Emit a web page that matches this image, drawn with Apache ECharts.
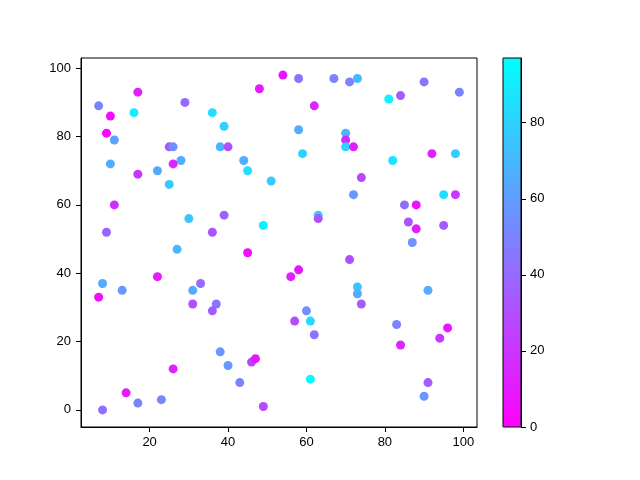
<!DOCTYPE html>
<html lang="en">
<head>
  <meta charset="UTF-8">
  <title>Scatter</title>
  <script src="https://cdn.jsdelivr.net/npm/echarts@6/dist/echarts.min.js"></script>
</head>
<body style="margin:0;background:#fff;">
  <div id="chart" style="width:640px;height:480px;"></div>
<script>
  // point positions
  var xs = [17, 7, 10, 16, 29, 36, 9, 11, 25, 26, 10, 28, 26, 22, 17, 25, 11, 30, 9, 36,
            54, 58, 67, 71, 73, 48, 62, 39, 58, 70, 70, 70, 72, 38, 40, 59, 44, 45, 51, 39,
            49, 63, 63, 90, 99, 81, 84, 82, 92, 98, 74, 72, 95, 98, 85, 88, 86, 88, 95, 87,
            27, 22, 8, 13, 7, 31, 33, 31, 37, 36, 26, 14, 17, 23, 8, 45, 58, 56, 71, 60,
            61, 57, 62, 38, 40, 43, 46, 47, 61, 49, 73, 73, 74, 91, 83, 96, 94, 84, 91, 90];
  var ys = [93, 89, 86, 87, 90, 87, 81, 79, 77, 77, 72, 73, 72, 70, 69, 66, 60, 56, 52, 52,
            98, 97, 97, 96, 97, 94, 89, 83, 82, 81, 79, 77, 77, 77, 77, 75, 73, 70, 67, 57,
            54, 57, 56, 96, 93, 91, 92, 73, 75, 75, 68, 63, 63, 63, 60, 60, 55, 53, 54, 49,
            47, 39, 37, 35, 33, 35, 37, 31, 31, 29, 12, 5, 2, 3, 0, 46, 41, 39, 44, 29,
            26, 26, 22, 17, 13, 8, 14, 15, 9, 1, 36, 34, 31, 35, 25, 24, 21, 19, 8, 4];
  // colour values
  var cs = [12, 50, 4, 90, 40, 85, 3, 62, 35, 55, 66, 66, 14, 64, 20, 76, 18, 75, 38, 32,
            8, 45, 50, 50, 70, 10, 15, 80, 65, 68, 14, 80, 12, 68, 30, 80, 66, 85, 78, 38,
            92, 78, 30, 45, 50, 92, 35, 88, 12, 78, 27, 58, 85, 20, 42, 7, 32, 12, 35, 56,
            70, 10, 66, 58, 5, 64, 40, 30, 45, 35, 12, 10, 50, 52, 42, 5, 8, 12, 30, 55,
            82, 28, 45, 58, 58, 50, 25, 8, 96, 28, 75, 65, 35, 65, 50, 8, 20, 15, 35, 58];
  var xTicks = [20, 40, 60, 80, 100];
  var yTicks = [0, 20, 40, 60, 80, 100];
  var cTicks = [0, 20, 40, 60, 80];

  var points = [];
  for (var i = 0; i < xs.length; i++) {
    points.push([xs[i], ys[i], cs[i]]);
  }

  var font = 'Liberation Sans';
  var myChart = echarts.init(document.getElementById('chart'));
  var option = {
    animation: false,
    backgroundColor: '#fff',
    grid: [
      { left: 81, right: 163, top: 58, bottom: 53, show: true, borderColor: '#000', borderWidth: 1, z: 2 },
      { left: 503, width: 18, top: 58, height: 369, show: true, borderColor: '#000', borderWidth: 1,
        backgroundColor: 'transparent', z: 10 }
    ],
    xAxis: [{
      gridIndex: 0,
      type: 'value',
      min: 2.5,
      max: 103.5,
      splitLine: { show: false },
      axisLine: { onZero: false, lineStyle: { color: '#000' } },
      axisTick: { inside: false, length: 5, lineStyle: { color: '#000' }, customValues: xTicks },
      axisLabel: { color: '#000', fontSize: 13, fontFamily: font, margin: 9, customValues: xTicks }
    }, {
      gridIndex: 1,
      type: 'value',
      min: 0,
      max: 1,
      show: false
    }],
    yAxis: [{
      gridIndex: 0,
      type: 'value',
      min: -5,
      max: 103,
      splitLine: { show: false },
      axisLine: { onZero: false, lineStyle: { color: '#000' } },
      axisTick: { inside: false, length: 5, lineStyle: { color: '#000' }, customValues: yTicks },
      axisLabel: { color: '#000', fontSize: 13, fontFamily: font, margin: 10, customValues: yTicks }
    }, {
      gridIndex: 1,
      type: 'value',
      position: 'right',
      min: 0,
      max: 97,
      splitLine: { show: false },
      axisLine: { show: true, onZero: false, lineStyle: { color: '#000' } },
      axisTick: { inside: false, length: 5, lineStyle: { color: '#000' }, customValues: cTicks },
      axisLabel: { color: '#000', fontSize: 13, fontFamily: font, margin: 9, customValues: cTicks }
    }],
    visualMap: {
      type: 'continuous',
      min: 0,
      max: 97,
      dimension: 2,
      seriesIndex: 0,
      orient: 'vertical',
      left: 503,
      top: 58,
      itemWidth: 18,
      itemHeight: 369,
      padding: 0,
      text: null,
      calculable: false,
      hoverLink: false,
      z: 1,
      inRange: { color: ['#ff00ff', '#00ffff'] }
    },
    series: [{
      type: 'scatter',
      xAxisIndex: 0,
      yAxisIndex: 0,
      symbolSize: 9,
      itemStyle: { opacity: 1 },
      data: points
    }, {
      type: 'scatter',
      xAxisIndex: 1,
      yAxisIndex: 1,
      data: []
    }]
  };
  myChart.setOption(option);
</script>
</body>
</html>
